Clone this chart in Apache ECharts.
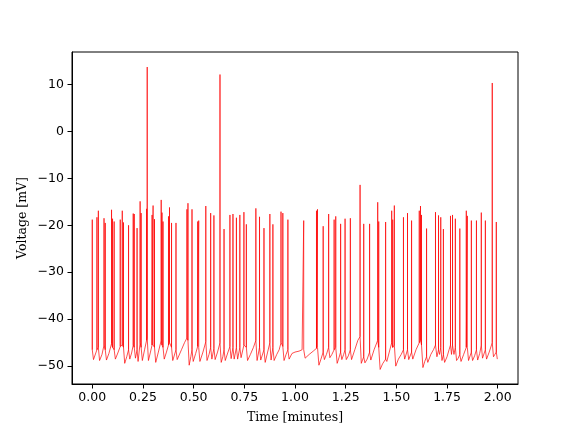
<!DOCTYPE html>
<html>
<head>
<meta charset="utf-8">
<script src="https://cdn.jsdelivr.net/npm/echarts@6/dist/echarts.min.js"></script>
<style>html,body{margin:0;padding:0;background:#fff}#c{width:576px;height:432px}</style>
</head>
<body>
<div id="c"></div>
<script>
// Spike times (minutes), peak voltages (mV) and voltage at spike onset (mV)
const spikeTime = [0.000,0.023,0.030,0.058,0.064,0.095,0.100,0.108,0.138,0.148,0.154,0.179,0.202,0.207,0.221,0.236,0.241,0.268,0.271,0.295,0.300,0.307,0.340,0.344,0.349,0.376,0.381,0.391,0.413,0.467,0.472,0.492,0.520,0.525,0.560,0.584,0.600,0.630,0.650,0.679,0.694,0.711,0.728,0.748,0.760,0.807,0.825,0.847,0.876,0.891,0.931,0.940,0.965,1.043,1.106,1.111,1.139,1.166,1.193,1.201,1.225,1.247,1.273,1.321,1.339,1.368,1.408,1.413,1.447,1.477,1.482,1.490,1.535,1.555,1.575,1.613,1.619,1.624,1.649,1.693,1.708,1.719,1.732,1.767,1.777,1.791,1.813,1.845,1.850,1.870,1.895,1.919,1.939,1.973,1.993];
const spikePeak = [-18.8,-18.3,-16.9,-18.5,-19.5,-16.7,-18.6,-19.2,-18.8,-16.9,-19.4,-20.0,-17.5,-17.6,-20.6,-14.9,-17.4,-16.5,13.7,-17.8,-15.8,-18.7,-14.6,-17.3,-19.2,-18.1,-16.2,-19.5,-19.5,-16.6,-15.3,-16.6,-19.2,-19.0,-15.9,-17.4,-17.9,12.1,-20.8,-17.8,-17.6,-18.4,-17.8,-17.2,-19.8,-16.4,-18.2,-20.6,-17.6,-19.8,-17.1,-17.4,-18.8,-19.0,-16.9,-16.6,-20.2,-17.6,-18.8,-18.1,-19.7,-18.6,-18.5,-11.4,-19.7,-19.7,-15.1,-19.2,-19.3,-16.9,-18.8,-15.8,-18.3,-17.4,-19.0,-16.9,-15.9,-17.8,-20.7,-17.2,-17.9,-18.3,-20.8,-18.0,-17.8,-18.6,-20.7,-16.9,-18.0,-19.0,-19.0,-17.3,-19.0,10.3,-19.3];
const spikeFoot = [-46.5,-46.5,-46.0,-45.5,-46.5,-45.2,-46.0,-46.5,-45.8,-45.5,-46.0,-46.5,-45.5,-46.0,-46.5,-45.0,-46.0,-44.5,-44.0,-45.5,-45.5,-46.0,-44.5,-45.5,-46.0,-45.5,-45.0,-46.0,-46.5,-44.0,-44.5,-46.5,-45.8,-46.0,-44.8,-46.0,-46.2,-45.0,-46.5,-45.8,-46.0,-46.0,-46.0,-45.5,-46.0,-44.5,-46.0,-46.5,-45.0,-46.0,-45.0,-45.8,-46.5,-46.5,-46.2,-46.0,-47.0,-46.0,-46.5,-46.0,-47.0,-46.5,-46.5,-43.7,-48.0,-47.0,-44.5,-46.0,-48.5,-45.0,-46.0,-45.5,-46.5,-46.5,-47.0,-45.0,-44.5,-45.5,-48.0,-45.5,-46.5,-46.0,-47.5,-45.5,-45.5,-46.0,-47.5,-46.0,-46.0,-47.0,-46.5,-45.5,-46.5,-45.0,-47.0];
// Slow (sub-threshold) trace between spikes: after-spike troughs and rising points
const slowTime = [0.006,0.036,0.048,0.070,0.082,0.114,0.126,0.160,0.170,0.185,0.194,0.213,0.226,0.247,0.258,0.277,0.287,0.313,0.326,0.355,0.366,0.397,0.419,0.440,0.455,0.478,0.486,0.498,0.510,0.531,0.546,0.566,0.576,0.590,0.606,0.618,0.636,0.644,0.656,0.668,0.685,0.700,0.717,0.734,0.766,0.780,0.795,0.813,0.831,0.853,0.865,0.882,0.897,0.910,0.922,0.946,0.956,0.971,0.985,1.000,1.020,1.035,1.050,1.070,1.090,1.118,1.128,1.145,1.155,1.172,1.182,1.208,1.217,1.231,1.240,1.253,1.263,1.279,1.295,1.310,1.327,1.345,1.356,1.374,1.390,1.420,1.432,1.453,1.465,1.497,1.510,1.524,1.541,1.561,1.581,1.597,1.631,1.640,1.655,1.670,1.683,1.700,1.713,1.725,1.738,1.750,1.760,1.772,1.784,1.797,1.805,1.819,1.832,1.856,1.876,1.886,1.901,1.911,1.925,1.945,1.958,1.979,1.986,1.998,2.000];
const slowVolt = [-48.6,-48.8,-47.5,-48.7,-47.3,-48.5,-47.2,-49.4,-48.0,-48.5,-47.2,-48.3,-49.0,-48.8,-46.5,-48.8,-47.0,-49.2,-47.0,-48.5,-47.0,-48.8,-48.6,-46.5,-45.0,-49.8,-48.0,-49.0,-47.3,-49.0,-47.0,-48.8,-47.5,-48.5,-48.6,-47.0,-49.2,-48.0,-48.8,-47.2,-48.4,-48.5,-48.5,-48.2,-48.8,-47.5,-46.0,-48.8,-48.7,-49.2,-47.0,-48.7,-48.8,-47.5,-46.5,-48.8,-47.5,-48.5,-47.3,-47.0,-46.8,-46.5,-48.3,-47.5,-46.8,-49.8,-48.5,-48.6,-47.5,-48.2,-47.5,-49.4,-48.2,-48.6,-47.5,-48.6,-47.8,-48.6,-46.5,-44.5,-49.4,-49.3,-48.5,-48.7,-46.5,-50.7,-49.5,-49.0,-47.0,-50.0,-48.5,-47.5,-48.5,-48.6,-48.5,-46.5,-50.3,-49.0,-49.2,-47.5,-46.5,-48.0,-47.5,-48.8,-49.2,-48.0,-46.5,-47.5,-47.5,-48.8,-48.3,-49.0,-47.5,-48.8,-48.8,-47.8,-48.7,-47.3,-48.3,-48.5,-47.0,-48.0,-47.5,-48.5,-48.6];
// Axis ticks
const xTicks = [0,0.25,0.5,0.75,1.0,1.25,1.5,1.75,2.0];
const yTicks = [-50,-40,-30,-20,-10,0,10];

const pts = [];
spikeTime.forEach((t,i)=>{
  pts.push({t:t,k:0,v:spikeFoot[i]});
  pts.push({t:t,k:1,v:spikePeak[i]});
  pts.push({t:t,k:2,v:spikeFoot[i]});
});
slowTime.forEach((t,i)=>pts.push({t:t,k:3,v:slowVolt[i]}));
pts.sort((a,b)=>a.t-b.t || a.k-b.k);
const lineData = pts.map(p=>[p.t,p.v]);

const fmt = v => (v<0?'\u2212':'') + Math.abs(v);
const chart = echarts.init(document.getElementById('c'), null, {renderer:'canvas'});
chart.setOption({
  animation:false,
  backgroundColor:'#fff',
  grid:{left:72,top:52,right:58,bottom:48,show:true,borderColor:'#000',borderWidth:1,backgroundColor:'transparent'},
  xAxis:{
    type:'value',min:-0.1,max:2.1,
    name:'Time [minutes]',nameLocation:'middle',nameGap:27,nameMoveOverlap:false,
    nameTextStyle:{fontFamily:'DejaVu Serif',fontSize:12.5,color:'#000',verticalAlign:'top'},
    axisLine:{show:true,onZero:false,lineStyle:{color:'#000',width:1}},
    axisTick:{show:true,inside:false,length:4.5,lineStyle:{color:'#000'},customValues:xTicks},
    axisLabel:{fontFamily:'DejaVu Sans',fontSize:12.5,color:'#000',margin:7,customValues:xTicks,formatter:v=>v.toFixed(2)},
    splitLine:{show:false}
  },
  yAxis:{
    type:'value',min:-53.8,max:16.9,
    name:'Voltage [mV]',nameLocation:'middle',nameGap:43,nameRotate:90,nameMoveOverlap:false,
    nameTextStyle:{fontFamily:'DejaVu Serif',fontSize:12.5,color:'#000'},
    axisLine:{show:true,onZero:false,lineStyle:{color:'#000',width:1}},
    axisTick:{show:true,inside:false,length:4.5,lineStyle:{color:'#000'},customValues:yTicks},
    axisLabel:{fontFamily:'DejaVu Sans',fontSize:12.5,color:'#000',margin:8,customValues:yTicks,formatter:fmt},
    splitLine:{show:false}
  },
  series:[{
    type:'line',data:lineData,showSymbol:false,symbol:'none',
    lineStyle:{color:'#ff0000',width:0.7},
    clip:true
  }]
});
</script>
</body>
</html>
